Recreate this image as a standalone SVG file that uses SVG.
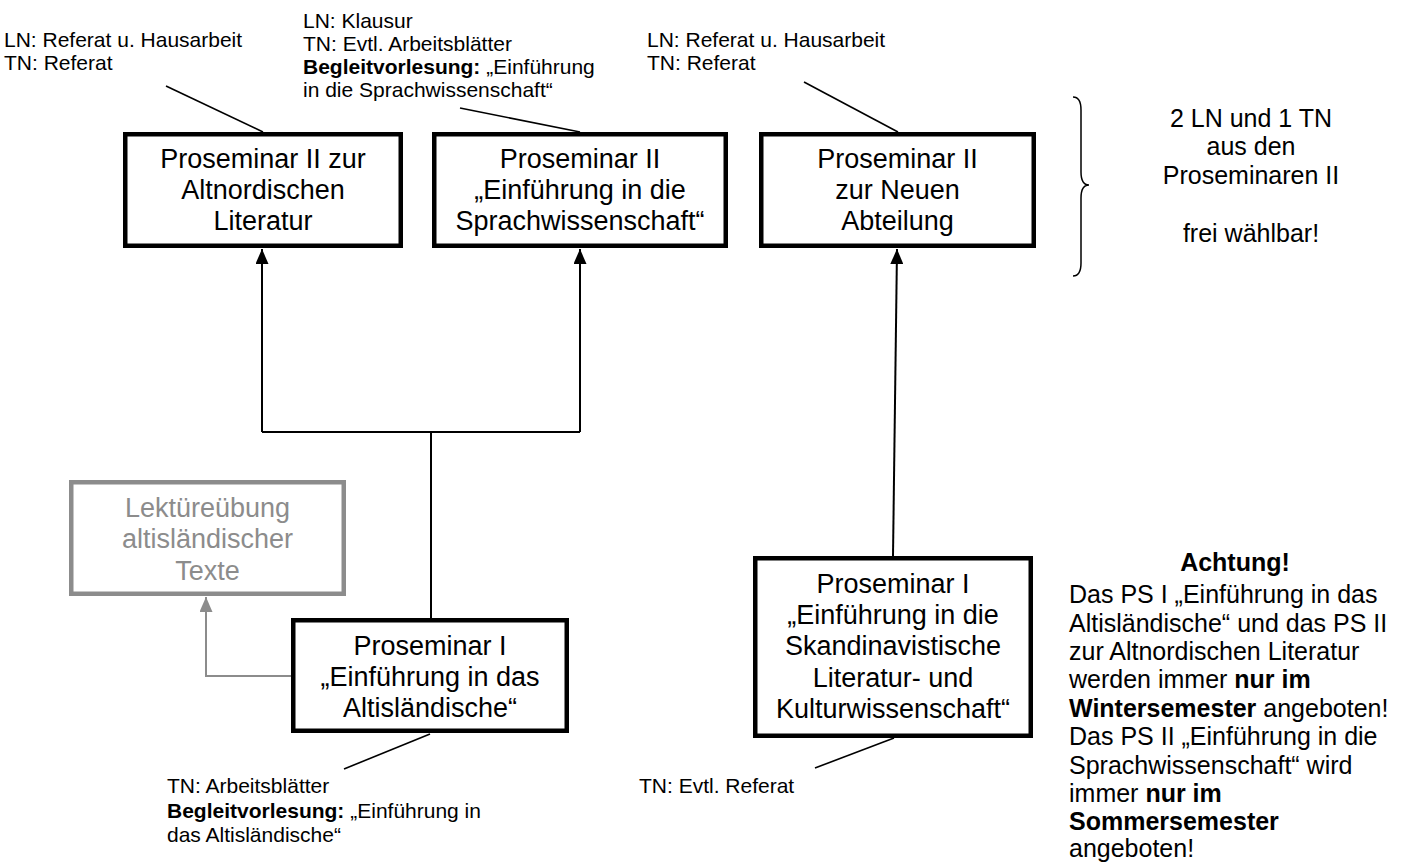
<svg xmlns="http://www.w3.org/2000/svg" width="1409" height="864" viewBox="0 0 1409 864">
<style>
text{font-family:"Liberation Sans",Arial,sans-serif;fill:#000}
.bx{font-size:27px;text-anchor:middle}
.gt{fill:#8c8c8c}
.lb{font-size:21px}
.nt{font-size:25px}
.b{font-weight:bold}
.node{fill:#fff;stroke:#000;stroke-width:4.5}
.gnode{fill:#fff;stroke:#8c8c8c;stroke-width:4.5}
.con{fill:none;stroke:#000;stroke-width:2}
.gcon{fill:none;stroke:#8c8c8c;stroke-width:2}
.lead{fill:none;stroke:#000;stroke-width:1.6}
</style>
<defs>
<marker id="ah" markerUnits="userSpaceOnUse" markerWidth="15" markerHeight="13" refX="15" refY="6.5" orient="auto">
<path d="M0,0 L15,6.5 L0,13 z" fill="#000"/>
</marker>
<marker id="gah" markerUnits="userSpaceOnUse" markerWidth="15" markerHeight="13" refX="15" refY="6.5" orient="auto">
<path d="M0,0 L15,6.5 L0,13 z" fill="#8c8c8c"/>
</marker>
</defs>
<rect width="1409" height="864" fill="#fff"/>

<g id="connectors">
<path class="con" d="M431,618 V432"/>
<path class="con" d="M262,432 H580"/>
<path class="con" d="M262,432 V249" marker-end="url(#ah)"/>
<path class="con" d="M580,432 V249" marker-end="url(#ah)"/>
<path class="con" d="M893,556 L897,249" marker-end="url(#ah)"/>
<path class="gcon" d="M291,676 H206 V597" marker-end="url(#gah)"/>
<path class="lead" d="M166,86 L263,132"/>
<path class="lead" d="M460,108 L580,132"/>
<path class="lead" d="M804,82 L898,132"/>
<path class="lead" d="M430,734 L344,769"/>
<path class="lead" d="M894,738 L815,768"/>
</g>

<g id="label-ps2-alt">
<text class="lb" x="4" y="47">LN: Referat u. Hausarbeit</text>
<text class="lb" x="4" y="70">TN: Referat</text>
</g>
<g id="label-ps2-sprach">
<text class="lb" x="303" y="28">LN: Klausur</text>
<text class="lb" x="303" y="51">TN: Evtl. Arbeitsblätter</text>
<text class="lb" x="303" y="74"><tspan class="b">Begleitvorlesung:</tspan> „Einführung</text>
<text class="lb" x="303" y="97">in die Sprachwissenschaft“</text>
</g>
<g id="label-ps2-neu">
<text class="lb" x="647" y="47">LN: Referat u. Hausarbeit</text>
<text class="lb" x="647" y="70">TN: Referat</text>
</g>

<g id="ps2-alt">
<rect class="node" x="125.25" y="134.25" width="275.5" height="111.5"/>
<text class="bx" x="263" y="168">Proseminar II zur</text>
<text class="bx" x="263" y="199">Altnordischen</text>
<text class="bx" x="263" y="230">Literatur</text>
</g>
<g id="ps2-sprach">
<rect class="node" x="434.25" y="134.25" width="291.5" height="111.5"/>
<text class="bx" x="580" y="168">Proseminar II</text>
<text class="bx" x="580" y="199">„Einführung in die</text>
<text class="bx" x="580" y="230">Sprachwissenschaft“</text>
</g>
<g id="ps2-neu">
<rect class="node" x="761.25" y="134.25" width="272.5" height="111.5"/>
<text class="bx" x="897.5" y="168">Proseminar II</text>
<text class="bx" x="897.5" y="199">zur Neuen</text>
<text class="bx" x="897.5" y="230">Abteilung</text>
</g>

<g id="brace">
<path d="M1073,97 Q1081,97 1081,110 L1081,172 Q1081,185 1089,185 Q1081,185 1081,198 L1081,263 Q1081,276 1073,276" fill="none" stroke="#000" stroke-width="1.5"/>
</g>
<g id="note-top">
<text class="nt" x="1251" y="127" text-anchor="middle">2 LN und 1 TN</text>
<text class="nt" x="1251" y="155" text-anchor="middle">aus den</text>
<text class="nt" x="1251" y="184" text-anchor="middle">Proseminaren II</text>
<text class="nt" x="1251" y="242" text-anchor="middle">frei wählbar!</text>
</g>

<g id="lektuere">
<rect class="gnode" x="71.25" y="482.25" width="272.5" height="111.5"/>
<text class="bx gt" x="207.5" y="517">Lektüreübung</text>
<text class="bx gt" x="207.5" y="548">altisländischer</text>
<text class="bx gt" x="207.5" y="580">Texte</text>
</g>

<g id="ps1-alt">
<rect class="node" x="293.25" y="620.25" width="273.5" height="110.5"/>
<text class="bx" x="430" y="655">Proseminar I</text>
<text class="bx" x="430" y="686">„Einführung in das</text>
<text class="bx" x="430" y="717">Altisländische“</text>
</g>

<g id="ps1-skand">
<rect class="node" x="755.25" y="558.25" width="275.5" height="177.5"/>
<text class="bx" x="893" y="593">Proseminar I</text>
<text class="bx" x="893" y="624">„Einführung in die</text>
<text class="bx" x="893" y="655">Skandinavistische</text>
<text class="bx" x="893" y="687">Literatur- und</text>
<text class="bx" x="893" y="718">Kulturwissenschaft“</text>
</g>

<g id="label-ps1-alt">
<text class="lb" x="167" y="793">TN: Arbeitsblätter</text>
<text class="lb" x="167" y="818"><tspan class="b">Begleitvorlesung:</tspan> „Einführung in</text>
<text class="lb" x="167" y="842">das Altisländische“</text>
</g>
<g id="label-ps1-skand">
<text class="lb" x="639" y="793">TN: Evtl. Referat</text>
</g>

<g id="note-bottom">
<text class="nt b" x="1235" y="571" text-anchor="middle">Achtung!</text>
<text class="nt" x="1069" y="603">Das PS I „Einführung in das</text>
<text class="nt" x="1069" y="632">Altisländische“ und das PS II</text>
<text class="nt" x="1069" y="660">zur Altnordischen Literatur</text>
<text class="nt" x="1069" y="688">werden immer <tspan class="b">nur im</tspan></text>
<text class="nt" x="1069" y="717"><tspan class="b">Wintersemester</tspan> angeboten!</text>
<text class="nt" x="1069" y="745">Das PS II „Einführung in die</text>
<text class="nt" x="1069" y="774">Sprachwissenschaft“ wird</text>
<text class="nt" x="1069" y="802">immer <tspan class="b">nur im</tspan></text>
<text class="nt" x="1069" y="830"><tspan class="b">Sommersemester</tspan></text>
<text class="nt" x="1069" y="857">angeboten!</text>
</g>
</svg>
